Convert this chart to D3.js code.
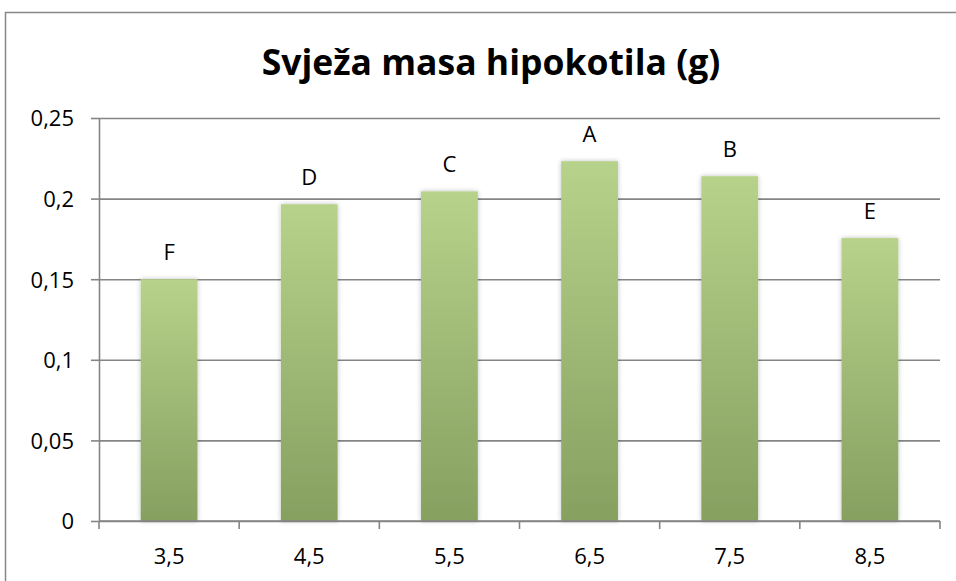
<!DOCTYPE html>
<html>
<head>
<meta charset="utf-8">
<script src="https://cdn.jsdelivr.net/npm/d3@7"></script>
<style>
  body { margin: 0; background: #fff; }
  text { font-family: "Open Sans", sans-serif; fill: #000; }
</style>
</head>
<body>
<div id="chart"></div>
<script>
// data
var categories = ["3,5", "4,5", "5,5", "6,5", "7,5", "8,5"]
var values = [0.150, 0.1965, 0.2045, 0.2232, 0.2139, 0.1755]
var letters = ["F", "D", "C", "A", "B", "E"]
var yTicks = [0, 0.05, 0.1, 0.15, 0.2, 0.25]

var W = 956, H = 581
var margin = {top: 118, right: 16, bottom: 60, left: 99}
var width = W - margin.left - margin.right
var height = H - margin.top - margin.bottom

var data = categories.map(function(c, i) {
  return {cat: c, value: values[i], letter: letters[i]}
})

var fmt = function(d) { return String(d).replace(".", ",") }

var svg = d3.select("#chart").append("svg")
  .attr("width", W)
  .attr("height", H)

var defs = svg.append("defs")
var grad = defs.append("linearGradient")
  .attr("id", "barGrad")
  .attr("x1", 0).attr("y1", 0).attr("x2", 0).attr("y2", 1)
grad.append("stop").attr("offset", "0%").attr("stop-color", "#b7d28a")
grad.append("stop").attr("offset", "100%").attr("stop-color", "#85a060")

var shadow = defs.append("filter")
  .attr("id", "shadow")
  .attr("x", "-20%").attr("y", "-5%").attr("width", "140%").attr("height", "110%")
shadow.append("feGaussianBlur").attr("in", "SourceAlpha").attr("stdDeviation", 2.5).attr("result", "blur")
shadow.append("feComponentTransfer").append("feFuncA").attr("type", "linear").attr("slope", 0.25)
var merge = shadow.append("feMerge")
merge.append("feMergeNode")
merge.append("feMergeNode").attr("in", "SourceGraphic")

// outer chart border
svg.append("rect")
  .attr("x", 5.5).attr("y", 12.5)
  .attr("width", 1000).attr("height", 1000)
  .attr("fill", "none")
  .attr("stroke", "#878787")
  .attr("stroke-width", 1.5)

// title
svg.append("text")
  .attr("x", 491)
  .attr("y", 75)
  .attr("text-anchor", "middle")
  .style("font-size", "35.5px")
  .style("font-weight", "bold")
  .text("Svježa masa hipokotila (g)")

var g = svg.append("g")
  .attr("transform", "translate(" + margin.left + "," + margin.top + ")")

var xScale = d3.scaleBand()
  .range([0, width])
  .domain(categories)
  .paddingInner(0.595)
  .paddingOuter(0.2975)

var xBand = d3.scaleBand()
  .range([0, width])
  .domain(categories)

var yScale = d3.scaleLinear()
  .range([height, 0])
  .domain([0, 0.25])

// grid
g.append("g")
  .attr("class", "grid")
  .call(d3.axisLeft(yScale)
    .tickValues(yTicks)
    .tickSize(-width)
    .tickFormat(""))
  .call(function(s) {
    s.select(".domain").remove()
    s.selectAll("line").attr("stroke", "#858585").attr("stroke-width", 1.6)
  })

// bars
g.selectAll(".bar")
  .data(data)
  .enter()
  .append("rect")
  .attr("class", "bar")
  .attr("x", function(d) { return xScale(d.cat) })
  .attr("width", xScale.bandwidth())
  .attr("y", function(d) { return yScale(d.value) })
  .attr("height", function(d) { return height - yScale(d.value) })
  .attr("fill", "url(#barGrad)")
  .attr("filter", "url(#shadow)")

// letters above bars
g.selectAll(".lbl")
  .data(data)
  .enter()
  .append("text")
  .attr("class", "lbl")
  .attr("x", function(d) { return xScale(d.cat) + xScale.bandwidth() / 2 })
  .attr("y", function(d) { return yScale(d.value) - 19 })
  .attr("text-anchor", "middle")
  .style("font-size", "22px")
  .text(function(d) { return d.letter })

// y axis
g.append("g")
  .attr("class", "axis")
  .call(d3.axisLeft(yScale)
    .tickValues(yTicks)
    .tickSize(8)
    .tickSizeOuter(0)
    .tickPadding(17)
    .tickFormat(fmt))
  .call(function(s) {
    s.select(".domain").attr("stroke", "#858585").attr("stroke-width", 1.6)
    s.selectAll("line").attr("stroke", "#858585").attr("stroke-width", 1.6)
    s.selectAll("text").style("font-size", "22px").attr("dy", "0.36em")
  })

// x axis: ticks at category boundaries
var xAxis = g.append("g")
  .attr("class", "axis")
  .attr("transform", "translate(0," + height + ")")

xAxis.append("line")
  .attr("x1", 0).attr("x2", width)
  .attr("stroke", "#858585").attr("stroke-width", 1.6)

var bounds = categories.map(function(c) { return xBand(c) }).concat([width])
xAxis.selectAll(".xtick")
  .data(bounds)
  .enter()
  .append("line")
  .attr("class", "xtick")
  .attr("x1", function(d) { return d }).attr("x2", function(d) { return d })
  .attr("y1", 0).attr("y2", 8)
  .attr("stroke", "#858585").attr("stroke-width", 1.6)

xAxis.selectAll(".xlbl")
  .data(categories)
  .enter()
  .append("text")
  .attr("class", "xlbl")
  .attr("x", function(d) { return xBand(d) + xBand.bandwidth() / 2 })
  .attr("y", 43)
  .attr("text-anchor", "middle")
  .style("font-size", "22px")
  .text(function(d) { return d })
</script>
</body>
</html>
